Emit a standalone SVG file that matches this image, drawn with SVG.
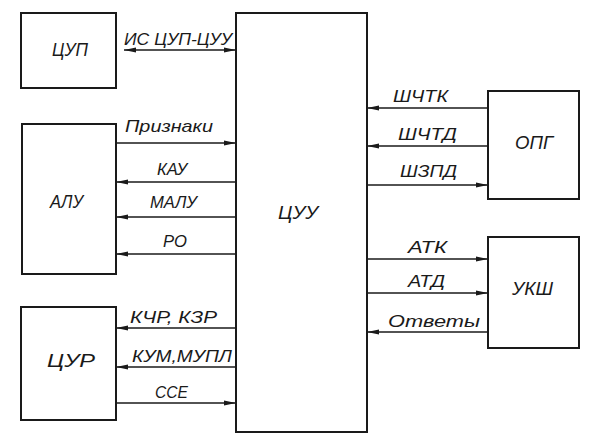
<svg xmlns="http://www.w3.org/2000/svg" width="600" height="442" viewBox="0 0 600 442">
<style>
.box{fill:#fff;stroke:#1a1a1a;stroke-width:2}
.ln{stroke:#1a1a1a;stroke-width:1.6;fill:none}
.t{font-family:"Liberation Sans",Arial,sans-serif;font-style:italic;font-size:17px;fill:#1a1a1a}
.b{font-size:19px}
</style>
<defs>
<marker id="ah" viewBox="0 0 12 6" refX="12" refY="3" markerWidth="12" markerHeight="6" markerUnits="userSpaceOnUse" orient="auto-start-reverse">
<path d="M0,0.6 L12,3 L0,5.4 Z" fill="#1a1a1a"/>
</marker>
</defs>
<rect width="600" height="442" fill="#fff"/>
<g id="connectors">
<line class="ln" x1="124" y1="50" x2="236" y2="50" marker-start="url(#ah)" marker-end="url(#ah)"/>
<line class="ln" x1="116" y1="143" x2="236" y2="143" marker-end="url(#ah)"/>
<line class="ln" x1="236" y1="182" x2="116" y2="182" marker-end="url(#ah)"/>
<line class="ln" x1="236" y1="217" x2="116" y2="217" marker-end="url(#ah)"/>
<line class="ln" x1="236" y1="254" x2="116" y2="254" marker-end="url(#ah)"/>
<line class="ln" x1="236" y1="328" x2="116" y2="328" marker-end="url(#ah)"/>
<line class="ln" x1="236" y1="367" x2="116" y2="367" marker-end="url(#ah)"/>
<line class="ln" x1="116" y1="403" x2="236" y2="403" marker-end="url(#ah)"/>
<line class="ln" x1="488" y1="108" x2="367" y2="108" marker-end="url(#ah)"/>
<line class="ln" x1="488" y1="146" x2="367" y2="146" marker-end="url(#ah)"/>
<line class="ln" x1="367" y1="185" x2="488" y2="185" marker-end="url(#ah)"/>
<line class="ln" x1="367" y1="259" x2="488" y2="259" marker-end="url(#ah)"/>
<line class="ln" x1="367" y1="293" x2="488" y2="293" marker-end="url(#ah)"/>
<line class="ln" x1="488" y1="332" x2="367" y2="332" marker-end="url(#ah)"/>
<text class="t" x="124" y="45" textLength="108" lengthAdjust="spacingAndGlyphs">ИС ЦУП-ЦУУ</text>
<text class="t" x="125" y="132" textLength="88" lengthAdjust="spacingAndGlyphs">Признаки</text>
<text class="t" x="157" y="175" textLength="30" lengthAdjust="spacingAndGlyphs">КАУ</text>
<text class="t" x="150" y="208" textLength="47" lengthAdjust="spacingAndGlyphs">МАЛУ</text>
<text class="t" x="163" y="247" textLength="24" lengthAdjust="spacingAndGlyphs">РО</text>
<text class="t" x="130" y="323" textLength="87" lengthAdjust="spacingAndGlyphs">КЧР, КЗР</text>
<text class="t" x="132" y="362" textLength="100" lengthAdjust="spacingAndGlyphs">КУМ,МУПЛ</text>
<text class="t" x="155" y="398" textLength="33" lengthAdjust="spacingAndGlyphs">ССЕ</text>
<text class="t" x="393" y="102" textLength="55" lengthAdjust="spacingAndGlyphs">ШЧТК</text>
<text class="t" x="398" y="140" textLength="59" lengthAdjust="spacingAndGlyphs">ШЧТД</text>
<text class="t" x="400" y="177" textLength="57" lengthAdjust="spacingAndGlyphs">ШЗПД</text>
<text class="t" x="408" y="253" textLength="39" lengthAdjust="spacingAndGlyphs">АТК</text>
<text class="t" x="408" y="287" textLength="37" lengthAdjust="spacingAndGlyphs">АТД</text>
<text class="t" x="388" y="327" textLength="92" lengthAdjust="spacingAndGlyphs">Ответы</text>
</g>
<g id="cup">
<rect class="box" x="21" y="13" width="95" height="75"/>
<text class="t b" x="52" y="56" textLength="36" lengthAdjust="spacingAndGlyphs">ЦУП</text>
</g>
<g id="alu">
<rect class="box" x="22" y="124" width="94" height="150"/>
<text class="t b" x="50" y="208" textLength="33" lengthAdjust="spacingAndGlyphs">АЛУ</text>
</g>
<g id="cur">
<rect class="box" x="21" y="307" width="95" height="113"/>
<text class="t b" x="47" y="367" textLength="48" lengthAdjust="spacingAndGlyphs">ЦУР</text>
</g>
<g id="cuu">
<rect class="box" x="236" y="13" width="131" height="419"/>
<text class="t b" x="278" y="219" textLength="40" lengthAdjust="spacingAndGlyphs">ЦУУ</text>
</g>
<g id="opg">
<rect class="box" x="488" y="91" width="91" height="108"/>
<text class="t b" x="515" y="149" textLength="38" lengthAdjust="spacingAndGlyphs">ОПГ</text>
</g>
<g id="uksh">
<rect class="box" x="488" y="237" width="91" height="111"/>
<text class="t b" x="512" y="295" textLength="41" lengthAdjust="spacingAndGlyphs">УКШ</text>
</g>
</svg>
